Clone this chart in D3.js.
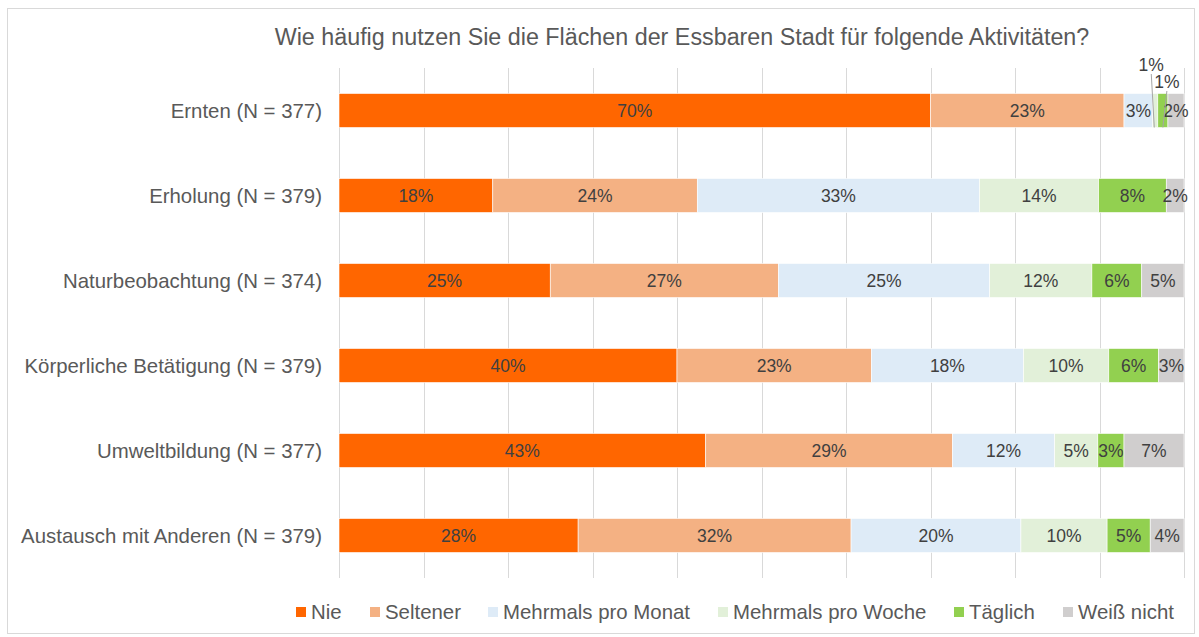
<!DOCTYPE html>
<html>
<head>
<meta charset="utf-8">
<script src="https://cdn.jsdelivr.net/npm/d3@7"></script>
<style>
  body { margin: 0; background: #fff; }
  text { font-family: "Liberation Sans", Arial, sans-serif; }
</style>
</head>
<body>
<div id="chart"></div>
<script>
// categories (top to bottom)
var categories = [
  "Ernten (N = 377)",
  "Erholung (N = 379)",
  "Naturbeobachtung (N = 374)",
  "Körperliche Betätigung (N = 379)",
  "Umweltbildung (N = 377)",
  "Austausch mit Anderen (N = 379)"
];
var seriesNames = ["Nie", "Seltener", "Mehrmals pro Monat", "Mehrmals pro Woche", "Täglich", "Weiß nicht"];
var seriesColors = ["#ff6600", "#f4b183", "#deebf7", "#e2f0d9", "#92d050", "#d0cece"];

// shares in percent, one array per series, in category order
var nie      = [70.0, 18.2, 25.0, 40.0, 43.4, 28.3];
var seltener = [22.9, 24.2, 27.0, 23.0, 29.2, 32.3];
var monat    = [3.4, 33.4, 25.0, 18.0, 12.1, 20.1];
var woche    = [0.6, 14.1, 12.1, 10.1, 5.1, 10.2];
var taeglich = [1.2, 8.0, 5.9, 5.9, 3.1, 5.1];
var weissNicht = [1.9, 2.1, 5.0, 3.0, 7.1, 4.0];
var xTicks = [0, 10, 20, 30, 40, 50, 60, 70, 80, 90, 100];

var W = 1199, H = 637;
var margin = { top: 68, right: 15, bottom: 59, left: 339 };
var width = W - margin.left - margin.right,
    height = H - margin.top - margin.bottom;

var svg = d3.select("#chart").append("svg")
  .attr("width", W)
  .attr("height", H);

// outer frame
svg.append("rect")
  .attr("x", 7.5).attr("y", 8.5)
  .attr("width", W - 12).attr("height", H - 12)
  .attr("fill", "#fff")
  .attr("stroke", "#d9d9d9");

// title
svg.append("text")
  .attr("x", 682).attr("y", 45)
  .attr("text-anchor", "middle")
  .attr("fill", "#595959")
  .style("font-size", "23.3px")
  .text("Wie häufig nutzen Sie die Flächen der Essbaren Stadt für folgende Aktivitäten?");

var g = svg.append("g")
  .attr("transform", "translate(" + margin.left + "," + margin.top + ")");

var x = d3.scaleLinear().domain([0, 100]).range([0, width]);
var y = d3.scaleBand().domain(categories).range([0, height])
  .paddingInner(0.6).paddingOuter(0.3);

// gridlines
g.selectAll(".grid")
  .data(xTicks)
  .enter().append("line")
  .attr("x1", function (d) { return Math.round(x(d)) + 0.5; })
  .attr("x2", function (d) { return Math.round(x(d)) + 0.5; })
  .attr("y1", 0).attr("y2", height)
  .attr("stroke", "#d9d9d9")
  .attr("stroke-width", 1);

// category labels
g.selectAll(".cat")
  .data(categories)
  .enter().append("text")
  .attr("x", -17)
  .attr("y", function (d) { return y(d) + y.bandwidth() / 2; })
  .attr("dy", "0.35em")
  .attr("text-anchor", "end")
  .attr("fill", "#595959")
  .style("font-size", "20.4px")
  .text(function (d) { return d; });

// build table for stack
var allSeries = [nie, seltener, monat, woche, taeglich, weissNicht];
var table = categories.map(function (c, i) {
  var row = { cat: c };
  seriesNames.forEach(function (s, j) { row[s] = allSeries[j][i]; });
  return row;
});
var stacked = d3.stack().keys(seriesNames)(table);

var layers = g.selectAll(".layer")
  .data(stacked)
  .enter().append("g")
  .attr("fill", function (d, i) { return seriesColors[i]; });

layers.selectAll("rect")
  .data(function (d) { return d; })
  .enter().append("rect")
  .attr("x", function (d) { return x(d[0]); })
  .attr("y", function (d) { return y(d.data.cat); })
  .attr("width", function (d) { return x(d[1]) - x(d[0]); })
  .attr("height", y.bandwidth())
  .attr("stroke", "#fff")
  .attr("stroke-width", 0.6);

// data labels (tiny Ernten segments get callouts)
layers.each(function (layer) {
  d3.select(this).selectAll("text")
    .data(layer.filter(function (d) { return (d[1] - d[0]) >= 1.5; }))
    .enter().append("text")
    .attr("x", function (d) { return x((d[0] + d[1]) / 2); })
    .attr("y", function (d) { return y(d.data.cat) + y.bandwidth() / 2; })
    .attr("dy", "0.35em")
    .attr("text-anchor", "middle")
    .attr("fill", "#404040")
    .style("font-size", "17.5px")
    .text(function (d) { return Math.round(d[1] - d[0]) + "%"; });
});

// callouts for the small Ernten segments (Woche, Täglich)
var callouts = [
  { key: 3, dx: -4, ly: -22.5 },
  { key: 4, dx: 4, ly: -5.5 }
];
callouts.forEach(function (c) {
  var d = stacked[c.key][0];
  var cx = x((d[0] + d[1]) / 2);
  var top = y(d.data.cat);
  g.append("line")
    .attr("x1", cx + c.dx).attr("y1", top + c.ly + 3)
    .attr("x2", cx + (c.key === 3 ? -1 : 0)).attr("y2", top + y.bandwidth())
    .attr("stroke", "#a6a6a6")
    .attr("stroke-width", 1);
  g.append("text")
    .attr("x", cx + c.dx)
    .attr("y", top + c.ly)
    .attr("text-anchor", "middle")
    .attr("fill", "#404040")
    .style("font-size", "17.5px")
    .text(Math.round(d[1] - d[0]) + "%");
});

// legend
var legendX = [296, 370, 488, 718, 954, 1063];
var legend = svg.selectAll(".legend")
  .data(seriesNames)
  .enter().append("g")
  .attr("transform", function (d, i) { return "translate(" + legendX[i] + ",612)"; });
legend.append("rect")
  .attr("x", 0).attr("y", -5)
  .attr("width", 10).attr("height", 10)
  .attr("fill", function (d, i) { return seriesColors[i]; });
legend.append("text")
  .attr("x", 15).attr("y", 0)
  .attr("dy", "0.35em")
  .attr("fill", "#595959")
  .style("font-size", "20.4px")
  .text(function (d) { return d; });
</script>
</body>
</html>
